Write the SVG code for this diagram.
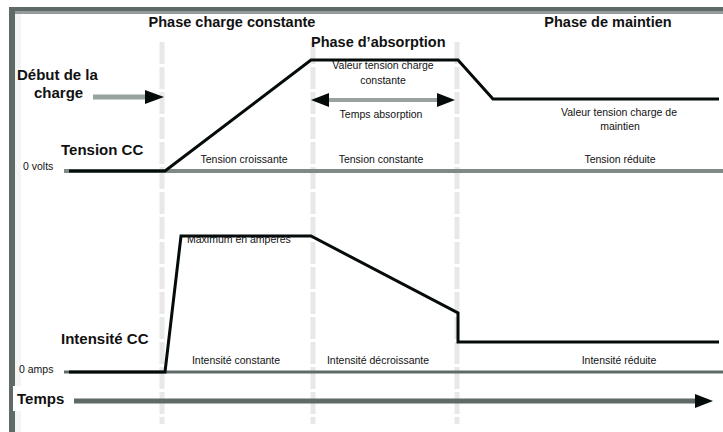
<svg xmlns="http://www.w3.org/2000/svg" width="723" height="432" viewBox="0 0 723 432">
<style>
.t{font-family:"Liberation Sans",Arial,sans-serif;fill:#111}
.b{font-weight:bold;font-size:14.5px}
.h{font-weight:bold;font-size:15px}
.s{font-size:10.5px}
.m{text-anchor:middle}
.grid{stroke:#e8e8e8;stroke-width:5;stroke-dasharray:22 3;fill:none}
.curve{stroke:#050a0a;stroke-width:3;fill:none;stroke-linejoin:miter}
.ax{stroke:#5e6a68;fill:none}
.head{fill:#050a0a}
</style>
<rect width="723" height="432" fill="#fff"/>
<g id="frame">
<rect x="15" y="7" width="708" height="4" fill="#5e6a68"/>
<rect x="15" y="11" width="708" height="3" fill="#939c9a"/>
<rect x="9" y="7" width="6" height="425" fill="#5e6a68"/>
<rect x="15" y="14" width="6" height="418" fill="#f3f5f5"/>
</g>
<g id="grid">
<line class="grid" x1="162" y1="42" x2="162" y2="424"/>
<line class="grid" x1="313" y1="42" x2="313" y2="424"/>
<line class="grid" x1="457" y1="42" x2="457" y2="424"/>
</g>
<g id="connectors">
<line x1="64" y1="171" x2="723" y2="171" stroke="#7f8987" stroke-width="4"/>
<line x1="64" y1="372" x2="723" y2="372" class="ax" stroke-width="3"/>
<polyline class="curve" points="69,171 165,171 311,60 458,60 493,99 719,99"/>
<polyline class="curve" points="69,372 165,372 181,236 311,236 458,313 458,342 719,342"/>
<line x1="93" y1="97" x2="146" y2="97" stroke="#9aa2a0" stroke-width="5"/>
<polygon class="head" points="145,90 164,97 145,104"/>
<line x1="326" y1="100" x2="440" y2="100" stroke="#9aa2a0" stroke-width="4"/>
<polygon class="head" points="329,93 311,100 329,107"/>
<polygon class="head" points="437,93 455,100 437,107"/>
<line x1="74" y1="401" x2="698" y2="401" class="ax" stroke-width="5"/>
<polygon class="head" points="695,394 713,401 695,408"/>
</g>
<g id="labels">
<text class="t b m" x="232" y="27">Phase charge constante</text>
<text class="t b" x="311" y="47">Phase d’absorption</text>
<text class="t b m" x="608" y="27">Phase de maintien</text>
<text class="t h" x="17" y="80">Début de la</text>
<text class="t h" x="34" y="98">charge</text>
<text class="t h" x="61" y="155">Tension CC</text>
<text class="t s" x="23" y="170">0 volts</text>
<text class="t s m" x="244" y="163">Tension croissante</text>
<text class="t s m" x="381" y="163">Tension constante</text>
<text class="t s m" x="620" y="163">Tension réduite</text>
<text class="t s m" x="383" y="69">Valeur tension charge</text>
<text class="t s m" x="383" y="84">constante</text>
<text class="t s m" x="381" y="118">Temps absorption</text>
<text class="t s m" x="619" y="116">Valeur tension charge de</text>
<text class="t s m" x="620" y="130">maintien</text>
<text class="t s" x="187" y="243">Maximum en amperes</text>
<text class="t h" x="61" y="344">Intensité CC</text>
<text class="t s" x="19" y="373">0 amps</text>
<text class="t s m" x="236" y="364">Intensité constante</text>
<text class="t s m" x="378" y="364">Intensité décroissante</text>
<text class="t s m" x="619" y="364">Intensité réduite</text>
<rect x="13" y="386" width="58" height="25" fill="#fff"/>
<text class="t h" x="17" y="404">Temps</text>
</g>
</svg>
